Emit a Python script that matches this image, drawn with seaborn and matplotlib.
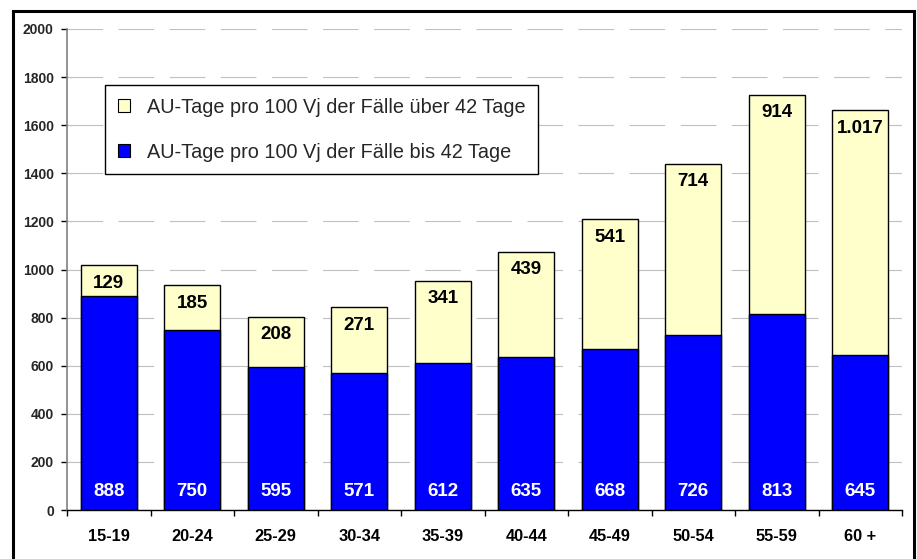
import matplotlib
matplotlib.use("Agg")
import matplotlib.pyplot as plt
import seaborn as sns
import pandas as pd
from matplotlib.patches import Patch, Rectangle

categories = ["15-19", "20-24", "25-29", "30-34", "35-39", "40-44", "45-49", "50-54", "55-59", "60 +"]
bis42 = [888, 750, 595, 571, 612, 635, 668, 726, 813, 645]
ueber42 = [129, 185, 208, 271, 341, 439, 541, 714, 914, 1017]
ueber_labels = ["129", "185", "208", "271", "341", "439", "541", "714", "914", "1.017"]
bis_labels = [str(v) for v in bis42]
yticks = list(range(0, 2001, 200))
legend_labels = ["AU-Tage pro 100 Vj der Fälle über 42 Tage", "AU-Tage pro 100 Vj der Fälle bis 42 Tage"]

sns.set_theme(style="white")
plt.rcParams['font.family'] = ['Liberation Sans', 'DejaVu Sans']

W, H = 917, 559
fig = plt.figure(figsize=(W / 100, H / 100), dpi=100)
ax = fig.add_axes([67 / W, 1 - 510 / H, (902 - 67) / W, 481 / H])

df = pd.DataFrame({"cat": categories, "bis": bis42, "ueber": ueber42})
df["total"] = df["bis"] + df["ueber"]

sns.barplot(data=df, x="cat", y="total", order=categories, color="#FFFFCC", saturation=1,
            width=0.67, edgecolor="black", linewidth=1, errorbar=None, ax=ax)
sns.barplot(data=df, x="cat", y="bis", order=categories, color="#0000FF", saturation=1,
            width=0.67, edgecolor="black", linewidth=1, errorbar=None, ax=ax)

for i, (b, u) in enumerate(zip(bis42, ueber42)):
    ax.annotate(ueber_labels[i], (i, b + u), xytext=(0, -13), textcoords="offset points",
                ha="center", va="center", fontsize=13.5, fontweight="bold", color="black")
    ax.annotate(bis_labels[i], (i, 0), xytext=(0, 13.2), textcoords="offset points",
                ha="center", va="center", fontsize=13.5, fontweight="bold", color="white")

ax.set_ylim(0, 2000)
ax.set_xlim(-0.5, len(categories) - 0.5)
ax.set_yticks(yticks)
ax.set_yticklabels([str(v) for v in yticks], fontsize=10, fontweight="bold")
ax.set_xticks(range(len(categories)))
ax.set_xticklabels(categories, fontsize=11.8, fontweight="bold")
ax.set_xticks([i - 0.5 for i in range(len(categories) + 1)], minor=True)
ax.tick_params(axis="x", which="major", length=0, pad=13.5, colors="black")
ax.tick_params(axis="x", which="minor", length=4, width=1, direction="out", color="black", bottom=True)
ax.tick_params(axis="y", which="major", length=4, width=1, direction="out", color="black", left=True, pad=5.5)
ax.set_xlabel("")
ax.set_ylabel("")

ax.set_axisbelow(True)
ax.yaxis.grid(True, color="#C0C0C0", linewidth=0.8, linestyle=(0, (32, 14)))
ax.xaxis.grid(False)

for s in ["top", "right"]:
    ax.spines[s].set_visible(False)
ax.spines["left"].set_color("#808080")
ax.spines["left"].set_linewidth(1.2)
ax.spines["bottom"].set_color("black")
ax.spines["bottom"].set_linewidth(1)

handles = [Patch(facecolor="#FFFFCC", edgecolor="black", linewidth=0.8),
           Patch(facecolor="#0000FF", edgecolor="black", linewidth=0.8)]
leg = ax.legend(handles, legend_labels, loc="upper left",
                bbox_to_anchor=((105 - 67) / 835, (510 - 85) / 481), borderaxespad=0,
                fontsize=14.3, frameon=True, fancybox=False, shadow=False,
                handlelength=0.6, handleheight=0.6, handletextpad=0.85,
                labelspacing=1.3, borderpad=0.64)
leg.get_frame().set_edgecolor("black")
leg.get_frame().set_linewidth(1)
leg.get_frame().set_alpha(1)

fig.patches.append(Rectangle((13 / W, -0.05), (914 - 13) / W, 1 - 11 / H + 0.05,
                             transform=fig.transFigure, fill=False, edgecolor="black",
                             linewidth=2.2, clip_on=False))

fig.savefig("out.png", dpi=100)
